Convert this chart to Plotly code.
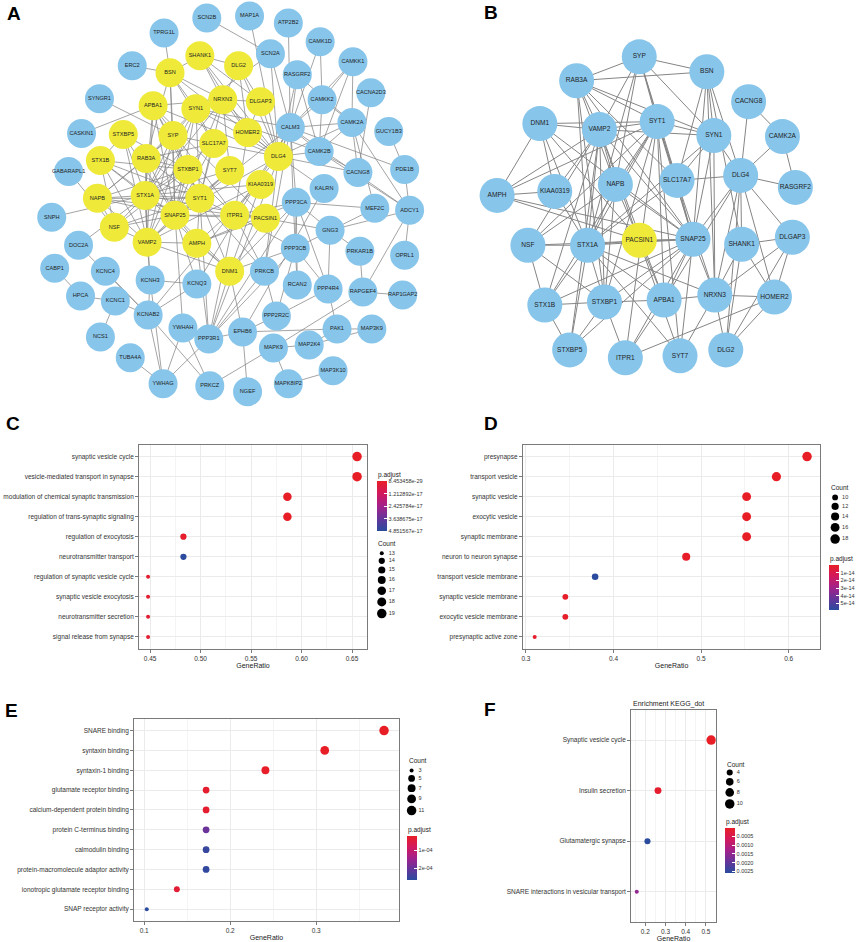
import math
import plotly.graph_objects as go

W, H = 858, 942
FONT = "Liberation Sans, Arial, Helvetica, sans-serif"
BLUE_NODE = "#87C5EA"
YELLOW_NODE = "#EFEA3A"
EDGE = "#858585"
TXT = "#333333"
CSCALE = [[0, "#2A4B9E"], [0.25, "#65359A"], [0.5, "#A3218B"], [0.75, "#D2195C"], [1, "#E81E26"]]

# ---------------- Panel A : PPI network (layout coordinates) ----------------
a_genes = ["SCN2B", "MAP1A", "ATP2B2", "TPRG1L", "CAMK1D", "SCN2A", "CAMKK1", "SHANK1", "DLG2", "ERC2",
           "BSN", "RASGRF2", "CACNA2D3", "SYNGR1", "CAMKK2", "NRXN3", "DLGAP3", "APBA1", "SYN1", "CAMK2A",
           "CALM3", "CASKIN1", "GUCY1B3", "STXBP5", "SYP", "HOMER2", "SLC17A7", "CAMK2B", "DLG4", "STX1B",
           "RAB3A", "PDE1B", "CACNG8", "STXBP1", "SYT7", "GABARAPL1", "KIAA0319", "KALRN", "NAPB", "STX1A",
           "SYT1", "PPP3CA", "MEF2C", "ADCY1", "SNPH", "SNAP25", "ITPR1", "PACSIN1", "NSF", "GNG3",
           "DOC2A", "VAMP2", "AMPH", "PPP3CB", "PRKAR1B", "OPRL1", "CABP1", "KCNC4", "DNM1", "PRKCB",
           "KCNH3", "KCNQ3", "RCAN2", "PPP4R4", "RAPGEF4", "RAP1GAP2", "HPCA", "KCNC1", "KCNAB2", "YWHAH",
           "PPP2R2C", "PPP3R1", "EPHB6", "PAK1", "MAP3K9", "NCS1", "MAPK9", "MAP2K4", "TUBA4A", "MAP3K10",
           "YWHAG", "PRKCZ", "NGEF", "MAPK8IP2"]
a_x = [206, 249, 288, 163, 320, 270, 353, 199, 238, 131,
       169, 297, 371, 98, 322, 222, 260, 152, 195, 352,
       290, 80, 389, 122, 172, 247, 213, 319, 278, 99,
       145, 405, 358, 187, 229, 67, 260, 324, 96, 144,
       199, 296, 375, 410, 50, 174, 234, 265, 113, 330,
       77, 146, 196, 295, 360, 405, 53, 104, 229, 264,
       149, 196, 297, 328, 363, 403, 79, 114, 147, 182,
       276, 208, 242, 337, 372, 99, 273, 309, 129, 333,
       162, 209, 247, 288]
a_y = [18, 16, 23, 33, 42, 54, 62, 56, 66, 66,
       73, 75, 93, 99, 100, 100, 102, 106, 109, 123,
       128, 134, 132, 135, 136, 133, 144, 152, 157, 161,
       159, 170, 173, 170, 171, 172, 185, 189, 199, 196,
       199, 203, 209, 211, 218, 216, 216, 219, 228, 231,
       246, 243, 244, 249, 252, 256, 269, 272, 272, 272,
       281, 285, 286, 290, 293, 296, 297, 302, 316, 329,
       317, 340, 333, 330, 330, 338, 349, 346, 359, 372,
       385, 387, 393, 385]
a_hub_genes = ["SHANK1", "DLG2", "BSN", "NRXN3", "DLGAP3", "APBA1", "SYN1", "STXBP5", "SYP", "HOMER2",
               "SLC17A7", "DLG4", "STX1B", "RAB3A", "STXBP1", "SYT7", "KIAA0319", "NAPB", "STX1A", "SYT1",
               "SNAP25", "ITPR1", "PACSIN1", "NSF", "VAMP2", "AMPH", "DNM1"]

# ---------------- Panel B : hub network (layout coordinates) ----------------
b_genes = ["SYP", "BSN", "RAB3A", "CACNG8", "DNM1", "SYT1", "VAMP2", "SYN1", "CAMK2A", "DLG4",
           "SLC17A7", "NAPB", "RASGRF2", "KIAA0319", "AMPH", "PACSIN1", "SNAP25", "STX1A", "NSF", "SHANK1",
           "DLGAP3", "NRXN3", "HOMER2", "APBA1", "STXBP1", "STX1B", "STXBP5", "ITPR1", "SYT7", "DLG2"]
b_x = [641, 709, 578, 751, 541, 659, 601, 716, 785, 743,
       679, 617, 798, 556, 498, 641, 695, 589, 529, 744,
       795, 717, 777, 666, 606, 546, 571, 627, 682, 728]
b_y = [57, 72, 81, 102, 124, 122, 130, 136, 137, 176,
       181, 185, 188, 192, 196, 241, 240, 246, 246, 245,
       238, 296, 298, 301, 303, 306, 351, 359, 357, 351]
b_hub_genes = ["PACSIN1"]

core_edges = [
    ("SYP", "BSN"), ("SYP", "RAB3A"), ("RAB3A", "BSN"), ("SYP", "VAMP2"), ("SYP", "SYT1"), ("SYP", "SYN1"),
    ("SYP", "SNAP25"), ("SYP", "STX1A"), ("SYP", "SLC17A7"), ("SYP", "NAPB"),
    ("RAB3A", "VAMP2"), ("RAB3A", "SYT1"), ("RAB3A", "SYN1"), ("RAB3A", "SNAP25"), ("RAB3A", "STX1A"),
    ("RAB3A", "STXBP1"), ("RAB3A", "NAPB"), ("RAB3A", "SLC17A7"),
    ("BSN", "SYN1"), ("BSN", "SNAP25"), ("BSN", "DLG4"), ("BSN", "SLC17A7"), ("BSN", "SHANK1"), ("BSN", "NRXN3"),
    ("DNM1", "VAMP2"), ("DNM1", "SYT1"), ("DNM1", "AMPH"), ("DNM1", "KIAA0319"), ("DNM1", "SNAP25"),
    ("DNM1", "PACSIN1"), ("DNM1", "STX1A"),
    ("VAMP2", "SYT1"), ("VAMP2", "SNAP25"), ("VAMP2", "STX1A"), ("VAMP2", "STX1B"), ("VAMP2", "NSF"),
    ("VAMP2", "NAPB"), ("VAMP2", "STXBP1"), ("VAMP2", "AMPH"), ("VAMP2", "KIAA0319"), ("VAMP2", "SYN1"),
    ("VAMP2", "STXBP5"), ("VAMP2", "SYT7"), ("VAMP2", "APBA1"),
    ("SYT1", "SNAP25"), ("SYT1", "STX1A"), ("SYT1", "STX1B"), ("SYT1", "SYN1"), ("SYT1", "SLC17A7"),
    ("SYT1", "NSF"), ("SYT1", "NAPB"), ("SYT1", "STXBP1"), ("SYT1", "AMPH"), ("SYT1", "SYT7"),
    ("SYT1", "ITPR1"), ("SYT1", "APBA1"), ("SYT1", "NRXN3"),
    ("SYN1", "SNAP25"), ("SYN1", "DLG4"), ("SYN1", "SLC17A7"), ("SYN1", "STX1A"), ("SYN1", "NRXN3"),
    ("CACNG8", "DLG4"), ("CACNG8", "CAMK2A"), ("CAMK2A", "DLG4"), ("CAMK2A", "RASGRF2"),
    ("DLG4", "RASGRF2"), ("DLG4", "SHANK1"), ("DLG4", "DLGAP3"), ("DLG4", "HOMER2"), ("DLG4", "NRXN3"),
    ("DLG4", "DLG2"), ("DLG4", "SLC17A7"), ("DLG4", "SNAP25"), ("DLG4", "APBA1"),
    ("SLC17A7", "SNAP25"), ("SLC17A7", "STX1A"),
    ("NAPB", "NSF"), ("NAPB", "STX1A"), ("NAPB", "SNAP25"), ("NAPB", "PACSIN1"), ("NAPB", "STXBP1"),
    ("KIAA0319", "AMPH"), ("KIAA0319", "STX1A"), ("AMPH", "PACSIN1"), ("AMPH", "SNAP25"),
    ("PACSIN1", "STX1A"), ("PACSIN1", "SNAP25"), ("PACSIN1", "APBA1"),
    ("SNAP25", "STX1A"), ("SNAP25", "STX1B"), ("SNAP25", "STXBP1"), ("SNAP25", "NSF"), ("SNAP25", "STXBP5"),
    ("SNAP25", "SYT7"), ("SNAP25", "APBA1"), ("SNAP25", "NRXN3"), ("SNAP25", "ITPR1"),
    ("STX1A", "NSF"), ("STX1A", "STX1B"), ("STX1A", "STXBP1"), ("STX1A", "STXBP5"), ("STX1A", "APBA1"),
    ("STX1A", "NRXN3"), ("STX1A", "SYT7"), ("NSF", "STX1B"), ("NSF", "STXBP1"),
    ("SHANK1", "DLGAP3"), ("SHANK1", "HOMER2"), ("SHANK1", "DLG2"), ("SHANK1", "NRXN3"),
    ("DLGAP3", "DLG2"), ("DLGAP3", "HOMER2"), ("DLGAP3", "NRXN3"),
    ("NRXN3", "APBA1"), ("NRXN3", "HOMER2"), ("NRXN3", "DLG2"), ("NRXN3", "SYT7"),
    ("HOMER2", "DLG2"), ("HOMER2", "ITPR1"), ("APBA1", "STXBP1"), ("APBA1", "ITPR1"),
    ("STXBP1", "STX1B"), ("STXBP1", "STXBP5"), ("STXBP1", "ITPR1"), ("STX1B", "STXBP5"),
]
a_extra_edges = [
    ("SCN2B", "SCN2A"), ("MAP1A", "DLG4"), ("TPRG1L", "BSN"), ("ERC2", "BSN"), ("ATP2B2", "CALM3"),
    ("CAMK1D", "CAMKK2"), ("CAMK1D", "CALM3"), ("CAMKK1", "CAMKK2"), ("CAMKK1", "CAMK2A"), ("CAMKK1", "CALM3"),
    ("CAMKK1", "CAMK2B"), ("SCN2A", "CALM3"), ("SCN2A", "DLG4"), ("SCN2A", "SYN1"), ("RASGRF2", "CALM3"),
    ("RASGRF2", "CAMK2B"), ("CACNA2D3", "CACNG8"), ("SYNGR1", "SYP"), ("CASKIN1", "APBA1"), ("GABARAPL1", "NSF"),
    ("GUCY1B3", "PDE1B"), ("CAMK2A", "CAMK2B"), ("CAMK2A", "CALM3"), ("CAMK2A", "ADCY1"), ("CAMK2A", "CAMKK2"),
    ("CAMK2B", "CALM3"), ("CAMK2B", "DLG4"), ("CAMK2B", "CACNG8"), ("CAMK2B", "SYN1"), ("CAMK2B", "ADCY1"),
    ("CAMKK2", "CALM3"), ("CAMKK2", "CAMK2B"), ("CALM3", "PPP3CA"), ("CALM3", "PPP3CB"), ("CALM3", "ADCY1"),
    ("CALM3", "PDE1B"), ("CALM3", "ITPR1"), ("CALM3", "SYT1"), ("CALM3", "KCNQ3"), ("CALM3", "PPP3R1"),
    ("CALM3", "DLG4"), ("CALM3", "PRKCB"), ("CALM3", "SYN1"), ("PPP3CA", "PPP3CB"), ("PPP3CA", "PPP3R1"),
    ("PPP3CA", "MEF2C"), ("PPP3CA", "RCAN2"), ("PPP3CA", "DNM1"), ("PPP3CA", "AMPH"), ("PPP3CA", "ITPR1"),
    ("PPP3CA", "PPP4R4"), ("PPP3CB", "PPP3R1"), ("PPP3CB", "RCAN2"), ("PPP3CB", "DNM1"), ("PPP3CB", "PPP4R4"),
    ("PPP3CB", "MEF2C"), ("PPP3CB", "PPP2R2C"), ("KALRN", "DLG4"), ("KALRN", "EPHB6"), ("GNG3", "ADCY1"),
    ("GNG3", "PRKAR1B"), ("GNG3", "PPP3CA"), ("GNG3", "PACSIN1"), ("PRKAR1B", "RAPGEF4"), ("RAPGEF4", "RAP1GAP2"),
    ("RAPGEF4", "ADCY1"), ("OPRL1", "ADCY1"), ("MEF2C", "CAMK2A"), ("PDE1B", "ADCY1"), ("PPP4R4", "PPP2R2C"),
    ("PPP4R4", "PAK1"), ("PPP4R4", "GNG3"), ("PRKCB", "PPP3R1"), ("PRKCB", "DLG4"), ("PRKCB", "ITPR1"),
    ("PRKCB", "PPP2R2C"), ("DNM1", "PPP3R1"), ("DNM1", "EPHB6"), ("SNPH", "STX1A"), ("DOC2A", "KCNAB2"),
    ("DOC2A", "STX1A"), ("CABP1", "HPCA"), ("HPCA", "KCNC1"), ("KCNC1", "NCS1"), ("KCNC1", "KCNAB2"),
    ("KCNC4", "KCNAB2"), ("KCNH3", "KCNQ3"), ("KCNH3", "KCNAB2"), ("KCNQ3", "KCNAB2"), ("KCNAB2", "YWHAG"),
    ("KCNH3", "YWHAG"), ("KCNH3", "VAMP2"), ("YWHAH", "YWHAG"), ("YWHAH", "PRKCZ"), ("YWHAH", "SNAP25"),
    ("YWHAG", "PPP3R1"), ("YWHAG", "TUBA4A"), ("PPP3R1", "EPHB6"), ("PRKCZ", "MAPK9"), ("PRKCZ", "KCNAB2"),
    ("EPHB6", "PAK1"), ("EPHB6", "NGEF"), ("EPHB6", "PPP2R2C"), ("MAPK9", "MAP2K4"), ("MAPK9", "MAPK8IP2"),
    ("MAPK9", "RAPGEF4"), ("MAP2K4", "PAK1"), ("PAK1", "MAP3K9"), ("MAP3K10", "MAPK8IP2"), ("MAP2K4", "MAP3K9"),
    ("PPP3R1", "ITPR1"), ("PPP3R1", "SYT1"), ("SYT1", "PRKCB"), ("ITPR1", "PPP3CB"), ("DLG4", "KCNAB2"),
    ("STX1A", "KCNH3"), ("SNAP25", "KCNQ3"), ("PPP3R1", "AMPH"),
]

# ---------------- Panel C : GO BP ----------------
c_terms = ["synaptic vesicle cycle", "vesicle-mediated transport in synapse",
           "modulation of chemical synaptic transmission", "regulation of trans-synaptic signaling",
           "regulation of exocytosis", "neurotransmitter transport", "regulation of synaptic vesicle cycle",
           "synaptic vesicle exocytosis", "neurotransmitter secretion", "signal release from synapse"]
c_ratio = [0.655, 0.655, 0.586, 0.586, 0.483, 0.483, 0.448, 0.448, 0.448, 0.448]
c_count = [19, 19, 17, 17, 14, 14, 13, 13, 13, 13]
c_padj = [8.453458e-29, 1.1e-28, 2.0e-22, 2.3e-22, 1.5e-18, 4.851567e-17, 2.2e-18, 2.6e-18, 2.6e-18, 2.6e-18]
c_breaks = [13, 14, 15, 16, 17, 18, 19]
c_pticks = [8.453458e-29, 1.212892e-17, 2.425784e-17, 3.638675e-17, 4.851567e-17]
c_plabels = ["8.453458e-29", "1.212892e-17", "2.425784e-17", "3.638675e-17", "4.851567e-17"]

# ---------------- Panel D : GO CC ----------------
d_terms = ["presynapse", "transport vesicle", "synaptic vesicle", "exocytic vesicle", "synaptic membrane",
           "neuron to neuron synapse", "transport vesicle membrane", "synaptic vesicle membrane",
           "exocytic vesicle membrane", "presynaptic active zone"]
d_ratio = [0.621, 0.586, 0.552, 0.552, 0.552, 0.483, 0.379, 0.345, 0.345, 0.310]
d_count = [18, 17, 16, 16, 16, 14, 11, 10, 10, 9]
d_padj = [1.0e-19, 2.0e-17, 1.5e-16, 1.5e-16, 2.5e-16, 9.0e-16, 5.9e-14, 1.2e-15, 1.2e-15, 2.0e-15]
d_breaks = [10, 12, 14, 16, 18]
d_pticks = [1e-14, 2e-14, 3e-14, 4e-14, 5e-14]
d_plabels = ["1e-14", "2e-14", "3e-14", "4e-14", "5e-14"]

# ---------------- Panel E : GO MF ----------------
e_terms = ["SNARE binding", "syntaxin binding", "syntaxin-1 binding", "glutamate receptor binding",
           "calcium-dependent protein binding", "protein C-terminus binding", "calmodulin binding",
           "protein-macromolecule adaptor activity", "ionotropic glutamate receptor binding",
           "SNAP receptor activity"]
e_ratio = [0.379, 0.310, 0.241, 0.172, 0.172, 0.172, 0.172, 0.172, 0.138, 0.103]
e_count = [11, 9, 7, 5, 5, 5, 5, 5, 4, 3]
e_padj = [2.2e-5, 2.3e-5, 2.6e-5, 3.2e-5, 3.3e-5, 2.0e-4, 2.55e-4, 2.6e-4, 4.0e-5, 2.67e-4]
e_breaks = [3, 5, 7, 9, 11]
e_pticks = [1e-4, 2e-4]
e_plabels = ["1e-04", "2e-04"]

# ---------------- Panel F : KEGG ----------------
f_terms = ["Synaptic vesicle cycle", "Insulin secretion", "Glutamatergic synapse",
           "SNARE interactions in vesicular transport"]
f_ratio = [0.526, 0.263, 0.211, 0.158]
f_count = [10, 5, 4, 3]
f_padj = [3.0e-5, 1.2e-4, 2.62e-3, 1.5e-3]
f_breaks = [4, 6, 8, 10]
f_pticks = [0.0005, 0.0010, 0.0015, 0.0020, 0.0025]
f_plabels = ["0.0005", "0.0010", "0.0015", "0.0020", "0.0025"]


# ---------------- helpers ----------------
def dot_diam(c, lo, hi):
    return 4.0 + math.sqrt((c - lo) / (hi - lo)) * 5.5


def edge_xy(edges, names, xs, ys):
    idx = {n: i for i, n in enumerate(names)}
    ex, ey = [], []
    for a, b in edges:
        if a in idx and b in idx:
            ex += [xs[idx[a]], xs[idx[b]], None]
            ey += [ys[idx[a]], ys[idx[b]], None]
    return ex, ey


fig = go.Figure()

# networks on a full-page pixel axis (x / y)
for names, xs, ys, hubs, edges, diam, fsize, lw in [
    (a_genes, a_x, a_y, a_hub_genes, core_edges + a_extra_edges, 29, 5.6, 0.75),
    (b_genes, b_x, b_y, b_hub_genes, core_edges, 35, 6.6, 1.0),
]:
    ex, ey = edge_xy(edges, names, xs, ys)
    fig.add_trace(go.Scatter(x=ex, y=ey, mode="lines", line=dict(color=EDGE, width=lw),
                             hoverinfo="skip", showlegend=False, xaxis="x", yaxis="y"))
    fig.add_trace(go.Scatter(
        x=xs, y=ys, mode="markers+text", text=names, textposition="middle center",
        textfont=dict(size=fsize, color="#1e1e1e", family=FONT),
        marker=dict(size=diam, opacity=1, color=[YELLOW_NODE if n in hubs else BLUE_NODE for n in names],
                    line=dict(width=0)),
        hoverinfo="skip", showlegend=False, xaxis="x", yaxis="y", cliponaxis=False))

# dot plots
panels = [
    (c_terms, c_ratio, c_count, c_padj, c_breaks, c_pticks, c_plabels, 2, (138, 446, 367, 651),
     [0.4392, 0.6647], 0.05, ".2f", (377, 483, 50), (376, 545, 382, 555), 477),
    (d_terms, d_ratio, d_count, d_padj, d_breaks, d_pticks, d_plabels, 3, (524, 446, 823, 651),
     [0.2966, 0.636], 0.1, ".1f", (832, 567, 45), (832, 489, 838, 499), 561),
    (e_terms, e_ratio, e_count, e_padj, e_breaks, e_pticks, e_plabels, 4, (133, 721, 399, 924),
     [0.0884, 0.396], 0.1, ".1f", (407, 839, 44), (407, 763, 412, 773), 833),
    (f_terms, f_ratio, f_count, f_padj, f_breaks, f_pticks, f_plabels, 5, (633, 712, 718, 925),
     [0.131, 0.549], 0.1, ".1f", (727, 831, 45), (727, 767, 732, 775), 825),
]

annotations = []
layout_axes = {}
for (terms, ratio, count, padj, breaks, pticks, plabels, k, box, xr, dt, fmt, cb, leg, pty) in panels:
    lo, hi = min(count), max(count)
    l, t, r, b = box
    xa, ya = f"x{k}", f"y{k}"
    fig.add_trace(go.Scatter(
        x=ratio, y=terms, mode="markers", xaxis=xa, yaxis=ya, showlegend=False, hoverinfo="skip",
        marker=dict(size=[dot_diam(c, lo, hi) for c in count], opacity=1, color=[-p for p in padj],
                    cmin=-max(padj), cmax=-min(padj), colorscale=CSCALE, line=dict(width=0),
                    showscale=True,
                    colorbar=dict(x=cb[0] / W, xanchor="left", y=1 - cb[1] / H, yanchor="top",
                                  len=cb[2], lenmode="pixels", thickness=10, thicknessmode="pixels",
                                  xpad=0, ypad=0, outlinewidth=0, tickvals=[-v for v in pticks],
                                  ticktext=plabels, ticks="inside", ticklen=3, tickcolor="white",
                                  tickwidth=1, tickfont=dict(size=5.5, color=TXT, family=FONT)))))
    layout_axes[f"xaxis{k}"] = dict(
        domain=[l / W, r / W], anchor=ya, range=xr, dtick=dt, tick0=0, tickformat=fmt,
        showline=True, mirror=True, linecolor="#7a7a7a", linewidth=1.2, ticks="outside", ticklen=3,
        tickcolor="#7a7a7a", tickfont=dict(size=6.5, color=TXT, family=FONT), showgrid=True,
        gridcolor="#ebebeb", gridwidth=0.8, zeroline=False, fixedrange=True,
        minor=dict(dtick=dt / 2, tick0=0, showgrid=True, gridcolor="#f4f4f4", gridwidth=0.5, ticks=""),
        title=dict(text="GeneRatio", font=dict(size=7, color="#222", family=FONT), standoff=2))
    layout_axes[f"yaxis{k}"] = dict(
        domain=[1 - b / H, 1 - t / H], anchor=xa, type="category", categoryorder="array",
        categoryarray=terms, range=[len(terms) - 0.4, -0.6], showline=True, mirror=True,
        linecolor="#7a7a7a", linewidth=1.2, ticks="outside", ticklen=3, tickcolor="#7a7a7a",
        tickfont=dict(size=6.5, color=TXT, family=FONT), showgrid=True, gridcolor="#ebebeb",
        gridwidth=0.8, zeroline=False, fixedrange=True)

    # Count legend (keys on the pixel axis)
    diams = [dot_diam(c, lo, hi) for c in breaks]
    ky = [leg[3]]
    for i in range(1, len(breaks)):
        ky.append(ky[-1] + diams[i - 1] / 2 + diams[i] / 2 + 2.5)
    fig.add_trace(go.Scatter(x=[leg[2]] * len(breaks), y=ky, mode="markers", xaxis="x", yaxis="y",
                             marker=dict(size=diams, opacity=1, color="black", line=dict(width=0)),
                             hoverinfo="skip", showlegend=False))
    fig.add_trace(go.Scatter(x=[leg[2] + 7] * len(breaks), y=ky, mode="text", text=[str(c) for c in breaks],
                             textposition="middle right", xaxis="x", yaxis="y",
                             textfont=dict(size=5.5, color=TXT, family=FONT),
                             hoverinfo="skip", showlegend=False, cliponaxis=False))
    annotations.append(dict(x=leg[0], y=leg[1], xref="x", yref="y", text="Count", showarrow=False,
                            xanchor="left", yanchor="middle", font=dict(size=6.5, color="#222", family=FONT)))
    annotations.append(dict(x=cb[0] - 1, y=pty, xref="x", yref="y", text="p.adjust", showarrow=False,
                            xanchor="left", yanchor="middle", font=dict(size=6.5, color="#222", family=FONT)))

annotations.append(dict(x=633, y=706, xref="x", yref="y", text="Enrichment KEGG_dot", showarrow=False,
                        xanchor="left", yanchor="middle", font=dict(size=7, color="#222", family=FONT)))

for lab, lx, ly in [("A", 12, 14), ("B", 492, 13), ("C", 11, 425), ("D", 492, 425), ("E", 10, 713),
                    ("F", 491, 712)]:
    annotations.append(dict(x=lx, y=ly, xref="x", yref="y", text=f"<b>{lab}</b>", showarrow=False,
                            xanchor="center", yanchor="middle", font=dict(size=19, color="black", family=FONT)))

fig.update_layout(
    width=W, height=H, autosize=False, margin=dict(l=0, r=0, t=0, b=0),
    paper_bgcolor="white", plot_bgcolor="rgba(0,0,0,0)", showlegend=False,
    font=dict(family=FONT),
    xaxis=dict(domain=[0, 1], range=[0, W], visible=False, fixedrange=True),
    yaxis=dict(domain=[0, 1], range=[H, 0], visible=False, fixedrange=True),
    annotations=annotations,
    **layout_axes,
)

fig.write_html("out.html", config={"displayModeBar": False},
               post_script="document.body.style.margin='0px';document.body.style.overflow='hidden';")
